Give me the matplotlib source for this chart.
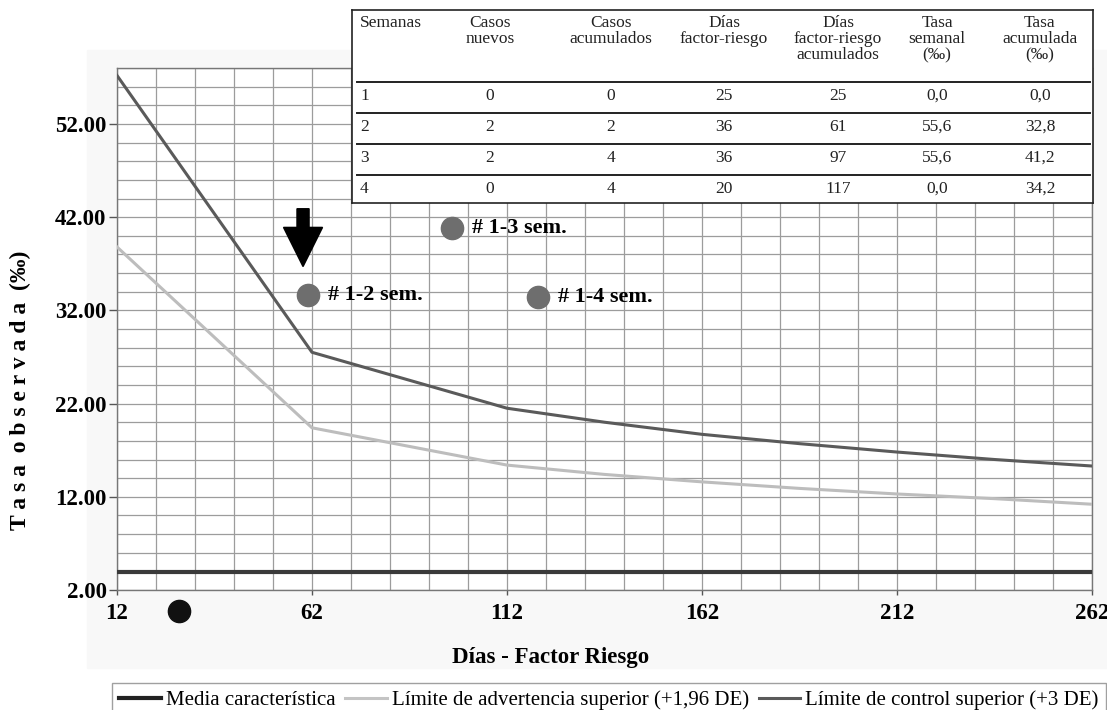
import matplotlib
matplotlib.use("Agg")
import matplotlib.pyplot as plt
from matplotlib.lines import Line2D
from matplotlib.patches import Rectangle
import numpy as np

plt.rcParams['font.family'] = ['Liberation Serif', 'DejaVu Serif']

# curvas de control
dias = [12, 62, 112, 137, 162, 187, 212, 237, 262]
limite_control = [57.2, 27.5, 21.5, 20.0, 18.7, 17.7, 16.8, 16.0, 15.3]
limite_advertencia = [38.8, 19.4, 15.4, 14.4, 13.6, 12.9, 12.3, 11.8, 11.2]
media = 3.95

# tasas observadas
puntos_x = [61, 98, 120]
puntos_y = [33.6, 40.8, 33.4]
puntos_lbl = ["# 1-2 sem.", "# 1-3 sem.", "# 1-4 sem."]
punto0_x, punto0_y = 28, -0.2

x_ticks = [12, 62, 112, 162, 212, 262]
y_ticks = [2, 12, 22, 32, 42, 52]

# tabla
cabecera = ["Semanas", "Casos\nnuevos", "Casos\nacumulados", "Días\nfactor-riesgo",
            "Días\nfactor-riesgo\nacumulados", "Tasa\nsemanal\n(‰)", "Tasa\nacumulada\n(‰)"]
semanas = ["1", "2", "3", "4"]
casos_nuevos = ["0", "2", "2", "0"]
casos_acum = ["0", "2", "4", "4"]
dias_fr = ["25", "36", "36", "20"]
dias_fr_acum = ["25", "61", "97", "117"]
tasa_sem = ["0,0", "55,6", "55,6", "0,0"]
tasa_acum = ["0,0", "32,8", "41,2", "34,2"]

W, H = 1107, 710
fig = plt.figure(figsize=(W / 100, H / 100), dpi=100)
fig.patches.append(Rectangle((87 / W, 1 - 668 / H), 1 - 87 / W, (668 - 50) / H,
                             transform=fig.transFigure, color='#f8f8f8', zorder=-10))

ax = fig.add_axes([117 / W, 1 - 590 / H, (1092 - 117) / W, (590 - 68) / H])
ax.set_xlim(12, 262)
ax.set_ylim(2, 58)
ax.set_xticks(x_ticks)
ax.set_yticks(y_ticks)
ax.set_xticks(np.arange(12, 263, 10), minor=True)
ax.set_yticks(np.arange(2, 59, 2), minor=True)
ax.grid(which='both', color='#9c9c9c', lw=0.9)
ax.set_axisbelow(True)
ax.set_yticklabels([f"{v:.2f}" for v in y_ticks], fontweight='bold', fontsize=16.5)
ax.set_xticklabels([str(v) for v in x_ticks], fontweight='bold', fontsize=16.5)
ax.tick_params(axis='y', which='major', length=6, width=1, pad=1.5, color='#555')
ax.tick_params(axis='x', which='major', length=3.5, width=1, pad=6, color='#555')
ax.tick_params(which='minor', length=0)
for s in ax.spines.values():
    s.set_color('#777')
    s.set_linewidth(1)

ax.axhline(media, color='#3a3a3a', lw=3, zorder=3)
ax.plot(dias, limite_advertencia, color='#bdbdbd', lw=2.2, zorder=3)
ax.plot(dias, limite_control, color='#5a5a5a', lw=2.2, zorder=3)

ax.plot(puntos_x, puntos_y, 'o', ms=16, color='#6e6e6e', zorder=5, clip_on=False)
ax.plot([punto0_x], [punto0_y], 'o', ms=16, color='#111', zorder=5, clip_on=False)
for x, y, t in zip(puntos_x, puntos_y, puntos_lbl):
    ax.annotate(t, (x, y), xytext=(14, 0), textcoords='offset points',
                ha='left', va='center', fontsize=16, fontweight='bold')

ax.arrow(59.7, 42.9, 0, -6.2, width=3.1, head_width=10, head_length=4.2,
         length_includes_head=True, color='black', zorder=6)

fig.text(20 / W, 1 - 390 / H, "T a s a  o b s e r v a d a  (‰)", rotation=90,
         ha='center', va='center', fontsize=17, fontweight='bold')
fig.text(551 / W, 1 - 658 / H, "Días - Factor Riesgo", ha='center', va='center',
         fontsize=16.5, fontweight='bold')

# tabla encima del gráfico
tx0, tx1, ty0, ty1 = 352, 1093, 10, 203
tax = fig.add_axes([tx0 / W, 1 - ty1 / H, (tx1 - tx0) / W, (ty1 - ty0) / H], zorder=10)
tax.set_xlim(tx0, tx1)
tax.set_ylim(ty1, ty0)
tax.set_xticks([])
tax.set_yticks([])
tax.set_facecolor('white')
for s in tax.spines.values():
    s.set_color('#222')
    s.set_linewidth(1.2)

col_x = [360, 490, 611, 724, 838, 937, 1040]
fila_y = [96, 127, 158, 189]
linea_y = [82, 113, 144, 175]
columnas = [semanas, casos_nuevos, casos_acum, dias_fr, dias_fr_acum, tasa_sem, tasa_acum]
for i, (cx, txt) in enumerate(zip(col_x, cabecera)):
    ha = 'left' if i == 0 else 'center'
    tax.text(cx, 15, txt, ha=ha, va='top', fontsize=12.5, linespacing=1.0, color='#222')
    for fy, v in zip(fila_y, columnas[i]):
        tax.text(cx, fy, v, ha=ha, va='center', fontsize=12.5, color='#222')
for ly in linea_y:
    tax.plot([357, 1090], [ly, ly], color='#222', lw=1.4)

handles = [Line2D([], [], color='#222', lw=3),
           Line2D([], [], color='#c4c4c4', lw=2.2),
           Line2D([], [], color='#5a5a5a', lw=2.2)]
labels = ["Media característica", "Límite de advertencia superior (+1,96 DE)",
          "Límite de control superior (+3 DE)"]
fig.legend(handles, labels, loc='upper left', bbox_to_anchor=(112 / W, 1 - 683 / H),
           ncol=3, frameon=True, fancybox=False, edgecolor='#888', fontsize=15,
           handlelength=2.0, handletextpad=0.25, columnspacing=0.45, borderpad=0.35,
           borderaxespad=0)

fig.savefig("out.png", dpi=100)
